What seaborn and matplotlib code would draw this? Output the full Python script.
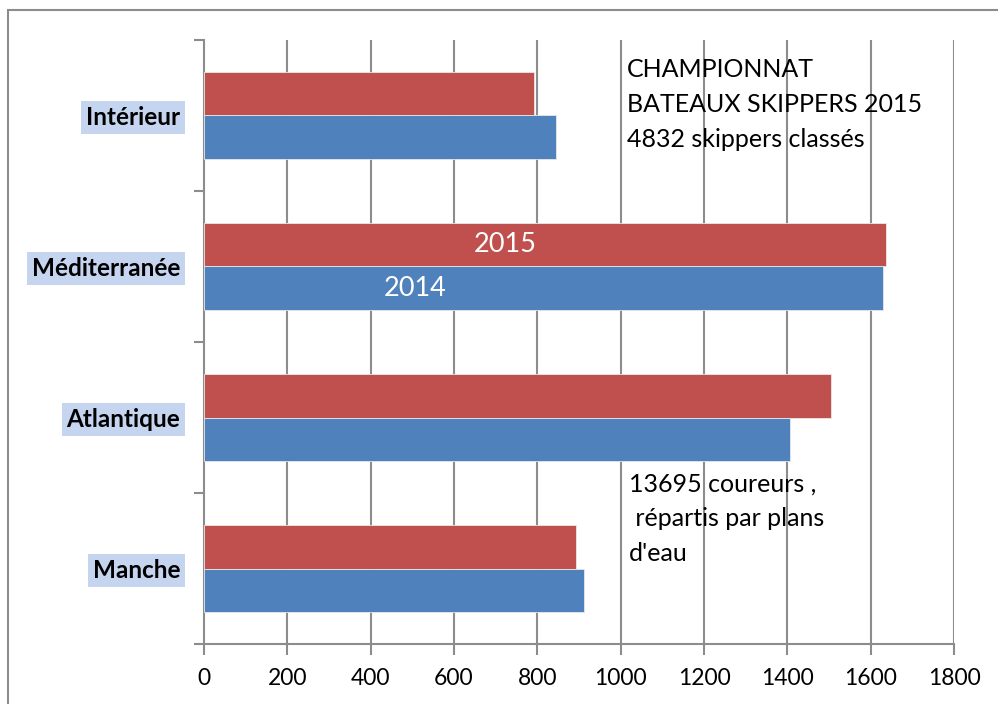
import matplotlib
matplotlib.use("Agg")
import matplotlib.pyplot as plt
import seaborn as sns
import pandas as pd
from matplotlib.patches import Rectangle

regions = ["Intérieur", "Méditerranée", "Atlantique", "Manche"]
values_2015 = [792, 1637, 1505, 893]
values_2014 = [845, 1630, 1406, 912]
years = ["2015", "2014"]
xticks = [0, 200, 400, 600, 800, 1000, 1200, 1400, 1600, 1800]

df = pd.DataFrame({
    "region": regions * 2,
    "year": [years[0]] * 4 + [years[1]] * 4,
    "value": values_2015 + values_2014,
})

sns.set_theme(style="white")
plt.rcParams["font.family"] = ["Lato", "DejaVu Sans"]
plt.rcParams["text.color"] = "black"

fig = plt.figure(figsize=(9.98, 7.04), dpi=100)
ax = fig.add_axes([0.2044, 0.0852, 0.9559 - 0.2044, 0.9432 - 0.0852])

palette = {"2015": "#C0504D", "2014": "#4F81BD"}
sns.barplot(data=df, y="region", x="value", hue="year", order=regions,
            hue_order=years, palette=palette, width=0.57, orient="h",
            saturation=1, edgecolor="#e8e8e8", linewidth=0.6, ax=ax, legend=False, zorder=3)

ax.set_xlim(0, 1800)
ax.set_ylim(3.5, -0.5)
ax.set_xticks(xticks)
ax.set_xticklabels([str(t) for t in xticks], fontsize=16.5, color="black")
ax.set_xlabel("")
ax.set_ylabel("")

grid_c = "#8c8c8c"
for t in xticks[1:]:
    ax.axvline(t, color=grid_c, lw=1.5, zorder=1)

for s in ["top", "right"]:
    ax.spines[s].set_visible(False)
for s in ["left", "bottom"]:
    ax.spines[s].set_color(grid_c)
    ax.spines[s].set_linewidth(1.5)

ax.tick_params(axis="x", direction="out", length=8, width=1.5, color=grid_c, pad=9, bottom=True)
ax.set_yticks([-0.5, 0.5, 1.5, 2.5, 3.5], minor=True)
ax.tick_params(axis="y", which="minor", direction="out", length=7, width=1.5, color=grid_c, left=True)
ax.tick_params(axis="y", which="major", length=0, pad=17)
ax.set_yticks(range(len(regions)))
ax.set_yticklabels(regions, fontsize=17.5, fontweight="bold", color="black")
for lab in ax.get_yticklabels():
    lab.set_bbox(dict(boxstyle="square,pad=0.2", facecolor="#c6d5ef", edgecolor="none"))

ax.text(1015, -0.38, "CHAMPIONNAT\nBATEAUX SKIPPERS 2015\n4832 skippers classés",
        fontsize=18, va="top", ha="left", linespacing=1.62, zorder=4, color="black")
ax.text(1020, 2.365, "13695 coureurs ,\n répartis par plans\nd'eau",
        fontsize=18, va="top", ha="left", linespacing=1.62, zorder=4, color="black")

ax.text(722, 1 - 0.1425, years[0], color="white", fontsize=19.5, ha="center", va="center", zorder=5)
ax.text(506, 1 + 0.1425, years[1], color="white", fontsize=19.5, ha="center", va="center", zorder=5)

fig.patches.append(Rectangle((8 / 998, -0.05), 1.2, 1 - 10 / 704 + 0.05,
                             transform=fig.transFigure, fill=False,
                             edgecolor="#8c8c8c", lw=1.5))

fig.savefig("out.png", dpi=100)
